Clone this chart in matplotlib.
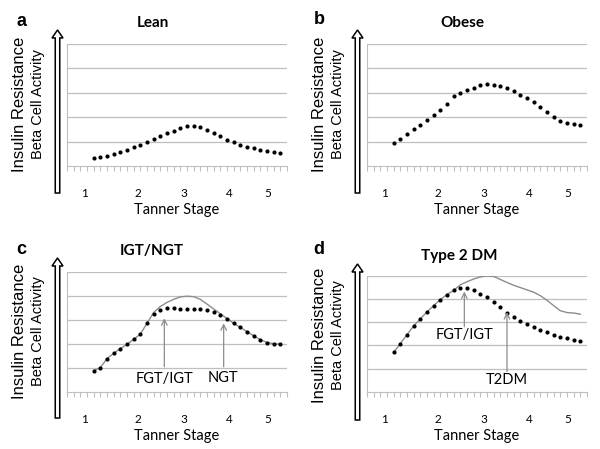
import matplotlib
matplotlib.use("Agg")
import matplotlib.pyplot as plt
from matplotlib.patches import FancyArrow
import numpy as np

# ---------------- data ----------------
x_index = list(range(4, 33))          # category positions of the data points
n_categories = 33
stage_labels = ["1", "2", "3", "4", "5"]
stage_positions = [2.7, 10.6, 17.5, 24.3, 30.1]

lean = [0.33, 0.37, 0.43, 0.50, 0.58, 0.67, 0.77, 0.88, 0.99, 1.10, 1.22, 1.34,
        1.45, 1.55, 1.62, 1.63, 1.58, 1.47, 1.35, 1.22, 1.08, 0.97, 0.87, 0.79,
        0.72, 0.66, 0.61, 0.57, 0.53]

obese = [0.93, 1.10, 1.30, 1.50, 1.70, 1.90, 2.08, 2.30, 2.55, 2.85, 3.00, 3.10,
         3.20, 3.30, 3.35, 3.33, 3.27, 3.18, 3.07, 2.93, 2.78, 2.62, 2.43, 2.23,
         2.02, 1.85, 1.76, 1.73, 1.70]

igt_fgt = [0.88, 1.00, 1.38, 1.60, 1.80, 1.97, 2.18, 2.40, 2.85, 3.22, 3.40, 3.48,
           3.48, 3.46, 3.45, 3.45, 3.45, 3.42, 3.33, 3.18, 3.02, 2.85, 2.68, 2.50,
           2.33, 2.17, 2.05, 2.00, 1.98]
igt_ngt = [0.88, 1.00, 1.38, 1.60, 1.80, 1.97, 2.18, 2.40, 2.85, 3.30, 3.55, 3.72,
           3.85, 3.95, 3.98, 3.96, 3.85, 3.65, 3.45, 3.25, 3.05, 2.85, 2.68, 2.50,
           2.33, 2.17, 2.05, 2.00, 1.98]

t2dm = [1.70, 2.08, 2.46, 2.84, 3.15, 3.45, 3.72, 3.98, 4.20, 4.38, 4.50, 4.48,
        4.38, 4.22, 4.08, 3.88, 3.65, 3.42, 3.22, 3.05, 2.92, 2.80, 2.68, 2.57,
        2.47, 2.38, 2.30, 2.24, 2.19]
t2dm_fgt = [1.70, 2.08, 2.46, 2.84, 3.15, 3.45, 3.72, 3.98, 4.20, 4.38, 4.62, 4.75,
            4.87, 4.96, 5.00, 4.98, 4.85, 4.72, 4.60, 4.50, 4.40, 4.30, 4.15, 3.95,
            3.72, 3.50, 3.42, 3.40, 3.35]

titles = ["Lean", "Obese", "IGT/NGT", "Type 2 DM"]
letters = ["a", "b", "c", "d"]

# ---------------- figure ----------------
W, H = 600, 449
fig = plt.figure(figsize=(6.0, 4.49), dpi=100)

def box(x0, y0, x1, y1):
    return [x0 / W, 1 - y1 / H, (x1 - x0) / W, (y1 - y0) / H]

# plot areas in pixels (left, top, right, bottom)
boxes = [(67, 44, 287, 166), (367, 44, 587, 166),
         (67, 271.7, 287, 391.7), (367, 276, 587, 391.7)]

GRID = "#bfbfbf"
tick_font = "Lato"

axes = []
for b in boxes:
    ax = fig.add_axes(box(*b))
    ax.set_xlim(0, n_categories)
    ax.set_ylim(0, 5)
    for s in ["top", "right"]:
        ax.spines[s].set_visible(False)
    ax.spines["left"].set_color(GRID)
    ax.spines["bottom"].set_color(GRID)
    ax.spines["left"].set_linewidth(0.8)
    ax.spines["bottom"].set_linewidth(0.8)
    ax.set_yticks([1, 2, 3, 4, 5])
    ax.yaxis.grid(True, color=GRID, linewidth=0.9)
    ax.tick_params(axis="y", length=0, labelleft=False)
    ax.set_xticks(stage_positions)
    ax.set_xticklabels(stage_labels, fontsize=8.5, fontfamily=tick_font)
    ax.set_xticks(np.arange(0, n_categories + 1), minor=True)
    ax.tick_params(axis="x", which="major", length=0, pad=16)
    ax.tick_params(axis="x", which="minor", length=3.5, color=GRID, width=0.8,
                   direction="out")
    ax.set_xlabel("Tanner Stage", fontsize=10.5, fontfamily=tick_font, labelpad=3)
    ax.set_axisbelow(True)
    axes.append(ax)

dot_kw = dict(linestyle="none", marker="o", markersize=3.0,
              markeredgewidth=0, color="black")

axes[0].plot(x_index, lean, **dot_kw)
axes[1].plot(x_index, obese, **dot_kw)
axes[2].plot(x_index, igt_ngt, color="#8c8c8c", linewidth=1.0)
axes[2].plot(x_index, igt_fgt, **dot_kw)
axes[3].plot(x_index, t2dm_fgt, color="#8c8c8c", linewidth=1.0)
axes[3].plot(x_index, t2dm, **dot_kw)

arr = dict(arrowstyle="->", color="#8c8c8c", lw=0.9, shrinkA=0, shrinkB=0)
txt = dict(fontsize=10.5, fontfamily=tick_font, ha="center", va="center")

axes[2].text(14.6, 0.55, "FGT/IGT", **txt)
axes[2].annotate("", xy=(14.6, 3.06), xytext=(14.6, 1.04), arrowprops=arr)
axes[2].text(23.4, 0.55, "NGT", **txt)
axes[2].annotate("", xy=(23.5, 2.85), xytext=(23.5, 1.04), arrowprops=arr)
axes[3].text(14.6, 2.45, "FGT/IGT", **txt)
axes[3].annotate("", xy=(14.6, 4.33), xytext=(14.6, 2.81), arrowprops=arr)
axes[3].text(21.0, 0.5, "T2DM", **txt)
axes[3].annotate("", xy=(21.0, 3.44), xytext=(21.0, 0.87), arrowprops=arr)

# ---------------- overlay for labels and arrows ----------------
ov = fig.add_axes([0, 0, 1, 1], zorder=-1)
ov.set_xlim(0, W)
ov.set_ylim(H, 0)
ov.axis("off")

title_pos = [(152.7, 22.7), (462.3, 22.7), (151.7, 251), (459.3, 255.7)]
letter_pos = [(21.7, 21.7), (319, 20), (21.7, 250), (319, 249)]
arrow_spans = [(30, 193), (30, 193), (258, 418), (264, 420)]
xoff = [0, 300, 0, 300]

for i in range(4):
    ov.text(*title_pos[i], titles[i], fontsize=11, fontweight="bold",
            fontfamily=tick_font, ha="center", va="center")
    ov.text(*letter_pos[i], letters[i], fontsize=13, fontweight="bold",
            fontfamily="Liberation Sans", ha="center", va="center")
    top, bottom = arrow_spans[i]
    cx = 57.5 + xoff[i]
    ov.add_patch(FancyArrow(cx, bottom, 0, -(bottom - top), width=4.5,
                            head_width=11, head_length=8,
                            length_includes_head=True, facecolor="white",
                            edgecolor="black", linewidth=1.1))
    yc = (top + bottom) / 2 - 7
    ov.text(20 + xoff[i], yc, "Insulin Resistance", rotation=90, fontsize=12,
            fontfamily="Liberation Sans", ha="center", va="center")
    ov.text(38 + xoff[i], yc, "Beta Cell Activity", rotation=90,
            fontsize=10.5, fontfamily="Liberation Sans", ha="center", va="center")

fig.savefig("out.png", dpi=100)
